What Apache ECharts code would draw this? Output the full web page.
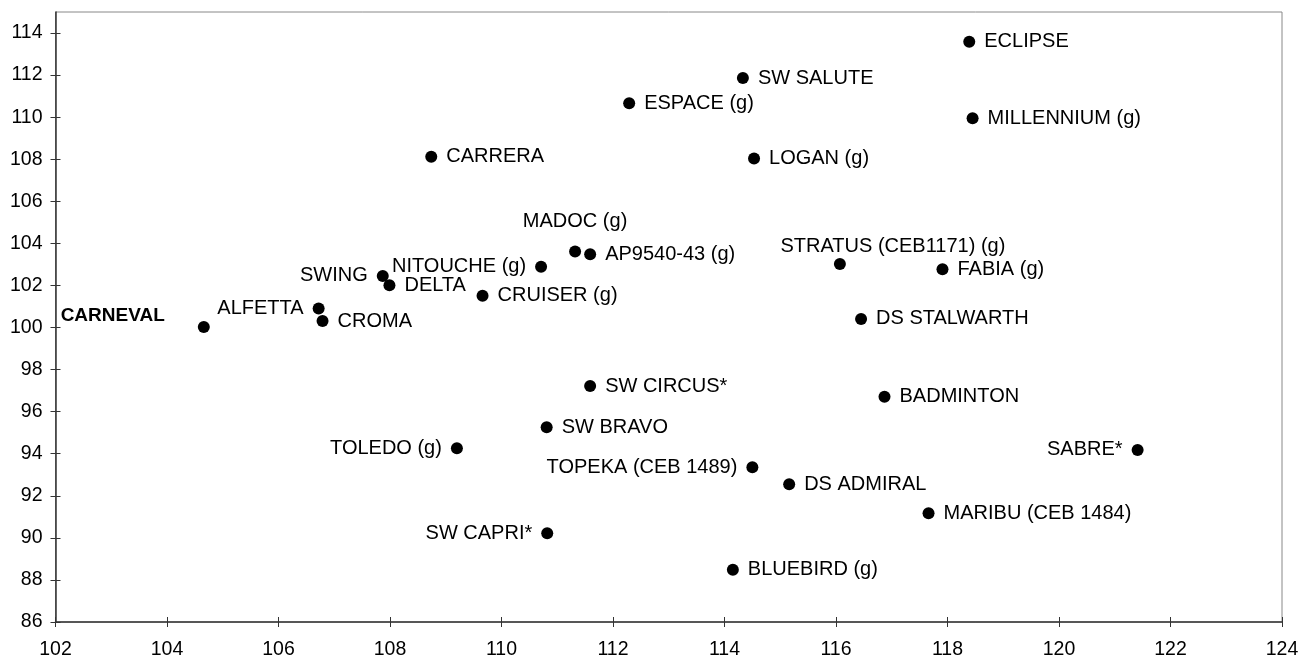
<!DOCTYPE html>
<html lang="en">
<head>
    <meta charset="UTF-8">
    <title>Scatter</title>
    <style>html,body{margin:0;padding:0;background:#fff;}</style>
</head>
<body>
    <div id="main" style="width: 1300px;height:658px;"></div>
    <script src="https://cdn.jsdelivr.net/npm/echarts@6/dist/echarts.min.js"></script>
<script type="text/javascript">
    // data
    var names = ['CARNEVAL', 'ALFETTA', 'CROMA', 'SWING', 'DELTA', 'NITOUCHE (g)', 'CRUISER (g)',
        'MADOC (g)', 'AP9540-43 (g)', 'CARRERA', 'ESPACE (g)', 'SW SALUTE', 'LOGAN (g)',
        'STRATUS (CEB1171) (g)', 'FABIA (g)', 'ECLIPSE', 'MILLENNIUM (g)', 'DS STALWARTH',
        'SW CIRCUS*', 'SW BRAVO', 'TOLEDO (g)', 'TOPEKA (CEB 1489)', 'DS ADMIRAL', 'SW CAPRI*',
        'BLUEBIRD (g)', 'BADMINTON', 'SABRE*', 'MARIBU (CEB 1484)'];
    var xVals = [104.66, 106.72, 106.79, 107.87, 107.99, 110.71, 109.66,
        111.32, 111.59, 108.74, 112.29, 114.33, 114.53,
        116.07, 117.91, 118.39, 118.45, 116.45,
        111.59, 110.81, 109.20, 114.50, 115.16, 110.82,
        114.15, 116.87, 121.41, 117.66];
    var yVals = [100.03, 100.90, 100.31, 102.45, 102.01, 102.89, 101.51,
        103.61, 103.48, 108.12, 110.66, 111.86, 108.04,
        103.02, 102.77, 113.59, 109.95, 100.41,
        97.22, 95.26, 94.26, 93.36, 92.55, 90.22,
        88.48, 96.71, 94.18, 91.17];
    var xTicks = [102, 104, 106, 108, 110, 112, 114, 116, 118, 120, 122, 124];
    var yTicks = [86, 88, 90, 92, 94, 96, 98, 100, 102, 104, 106, 108, 110, 112, 114];

    // which labels sit left of their dot
    var leftLabels = ['SWING', 'NITOUCHE (g)', 'ALFETTA', 'TOLEDO (g)', 'TOPEKA (CEB 1489)', 'SW CAPRI*', 'SABRE*'];

    var font = "'Liberation Sans', Arial, sans-serif";
    var lineCol = '#333';

    var points = [];
    for (var i = 0; i < names.length; i++) {
        var lab = {show: true, formatter: names[i], position: 'right', distance: 9,
            color: '#000', fontSize: 20, fontFamily: font};
        if (leftLabels.indexOf(names[i]) >= 0) {
            lab.position = 'left';
        }
        if (names[i] == 'CARNEVAL') {
            lab.position = 'left';
            lab.distance = 33;
            lab.offset = [0, -11];
            lab.fontWeight = 'bold';
            lab.fontSize = 19;
        }
        if (names[i] == 'MADOC (g)') {
            lab.position = 'top';
            lab.distance = 14;
        }
        if (names[i] == 'STRATUS (CEB1171) (g)') {
            lab.position = 'top';
            lab.distance = 2;
            lab.offset = [53, 0];
        }
        points.push({name: names[i], value: [xVals[i], yVals[i]], label: lab});
    }

    var myChart = echarts.init(document.getElementById('main'));
    myChart.setOption({
        animation: false,
        textStyle: {fontFamily: font},
        grid: {left: 55.5, right: 18, top: 12, bottom: 36, outerBoundsMode: 'none',
            show: true, borderColor: '#888', borderWidth: 1},
        xAxis: [{
            type: 'value', min: 102, max: 124, interval: 2, position: 'bottom',
            axisLine: {show: true, lineStyle: {color: lineCol, width: 1.5}},
            axisTick: {show: true, length: 5, lineStyle: {color: lineCol}, customValues: xTicks},
            axisLabel: {fontSize: 19.5, color: '#000', margin: 18, fontFamily: font, customValues: xTicks},
            splitLine: {show: false}
        }, {
            type: 'value', min: 102, max: 124, interval: 2, position: 'bottom',
            axisLine: {show: false},
            axisTick: {show: true, inside: true, length: 5, lineStyle: {color: lineCol}, customValues: xTicks},
            axisLabel: {show: false},
            splitLine: {show: false}
        }],
        yAxis: [{
            type: 'value', min: 86, max: 115, interval: 2, position: 'left',
            axisLine: {show: true, lineStyle: {color: lineCol, width: 1.5}},
            axisTick: {show: true, length: 5, lineStyle: {color: lineCol}, customValues: yTicks},
            axisLabel: {fontSize: 19.5, color: '#000', margin: 13, fontFamily: font, customValues: yTicks},
            splitLine: {show: false}
        }, {
            type: 'value', min: 86, max: 115, interval: 2, position: 'left', offset: 0,
            axisLine: {show: false},
            axisTick: {show: true, inside: true, length: 5, lineStyle: {color: lineCol}, customValues: yTicks},
            axisLabel: {show: false},
            splitLine: {show: false}
        }],
        series: [{
            type: 'scatter',
            symbol: 'circle',
            symbolSize: 12,
            itemStyle: {color: '#000', opacity: 1},
            data: points
        }]
    });
</script>
</body>
</html>
